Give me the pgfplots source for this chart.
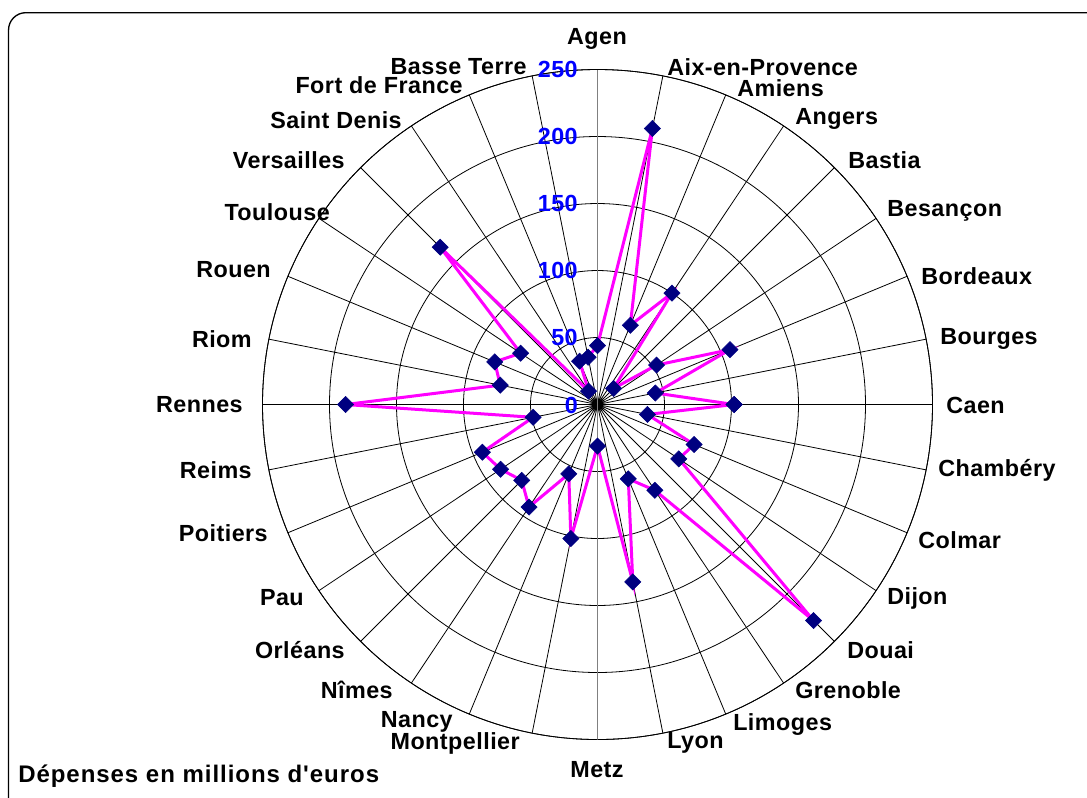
\documentclass[border=0pt]{standalone}
\usepackage{pgfplots}
\pgfplotsset{compat=1.18}
\usepgfplotslibrary{polar}
\usepackage{fontspec}
\setmainfont{Liberation Sans}
\newfontfamily\labfont{Liberation Sans}[LetterSpace=2]
\newfontfamily\titfont{Liberation Sans}[LetterSpace=4]
\definecolor{navymark}{HTML}{000080}
\definecolor{linemag}{HTML}{FF00FF}
\definecolor{tickblue}{HTML}{0000FF}
\definecolor{axgray}{HTML}{808080}
\pgfplotstableread{
angle value
0 102
11.25 44
22.5 107
33.75 53
45 17
56.25 100
67.5 64
78.75 210
90 44
101.25 36
112.5 35
123.75 12
135 166
146.25 69
157.5 83
168.75 74
180 188
191.25 49
202.5 93
213.75 87
225 80
236.25 92
247.5 56
258.75 102
270 31
281.25 135
292.5 60
303.75 77
315 228
326.25 73
337.5 78
348.75 38
360 102
}\spending
\begin{document}
\begin{tikzpicture}
\useasboundingbox (0pt,0pt) rectangle (815.25pt,-597.75pt);
\begin{scope}
\clip (0pt,0pt) rectangle (815.25pt,-597.75pt);
\draw[line width=1pt, rounded corners=13pt] (6.4pt,-9.5pt) rectangle (840pt,-620pt);
\end{scope}
\begin{polaraxis}[
  at={(448.125pt,-303.375pt)}, anchor=center,
  width=502.5pt, height=502.5pt, scale only axis,
  ymin=0, ymax=250,
  xtick={0,11.25,22.5,33.75,45,56.25,67.5,78.75,90,101.25,112.5,123.75,135,146.25,157.5,168.75,180,191.25,202.5,213.75,225,236.25,247.5,258.75,270,281.25,292.5,303.75,315,326.25,337.5,348.75},
  xticklabels={},
  ytick={0,50,100,150,200,250},
  yticklabels={},
  xmajorgrids, ymajorgrids,
  major grid style={black, line width=0.6pt},
  axis line style={black, line width=0.6pt},
  major tick style={draw=none},
]
\draw[axgray, line width=1.3pt] (axis cs:90,0) -- (axis cs:90,250);
\draw[axgray, line width=1.3pt] (axis cs:270,0) -- (axis cs:270,250);
\addplot[linemag, line width=2.25pt, mark=square*, mark size=4.3pt,
  mark options={rotate=45, fill=navymark, draw=navymark, line width=0.4pt}]
  table[x=angle, y=value] {\spending};
\end{polaraxis}
\begin{scope}[x=0.75pt, y=-0.75pt, every node/.style={inner sep=0pt, font=\labfont\bfseries\fontsize{17.5}{20}\selectfont}]
% value labels
\begin{scope}[every node/.append style={text=tickblue, anchor=east}]
\node at (578,405) {0};
\node at (578,337.5) {50};
\node at (578,270.5) {100};
\node at (578,203.5) {150};
\node at (578,136.5) {200};
\node at (578,69.5) {250};
\end{scope}
% category labels
\node[anchor=center] at (597,38.5) {Agen};
\node[anchor=center] at (597,770) {Metz};
\begin{scope}[every node/.append style={anchor=west}]
\node at (667,67) {Aix-en-Provence};
\node at (737,88) {Amiens};
\node at (795,119) {Angers};
\node at (848,160) {Bastia};
\node at (887,211) {Besançon};
\node at (921,276) {Bordeaux};
\node at (940,339) {Bourges};
\node at (946,405) {Caen};
\node at (938,470) {Chambéry};
\node at (918,540) {Colmar};
\node at (887,598) {Dijon};
\node at (847,650) {Douai};
\node at (795,690) {Grenoble};
\node at (733,725) {Limoges};
\node at (667,743) {Lyon};
\end{scope}
\begin{scope}[every node/.append style={anchor=east}]
\node at (527,67) {Basse Terre};
\node at (463,85) {Fort de France};
\node at (402,120) {Saint Denis};
\node at (345,160) {Versailles};
\node at (330,212) {Toulouse};
\node at (271,270) {Rouen};
\node at (252,339) {Riom};
\node at (243,405) {Rennes};
\node at (252,470) {Reims};
\node at (268,533) {Poitiers};
\node at (304,598) {Pau};
\node at (345,650) {Orléans};
\node at (393,690) {Nîmes};
\node at (453,722) {Nancy};
\node at (520,743) {Montpellier};
\end{scope}
\node[anchor=base west, font=\titfont\bfseries\fontsize{18}{21}\selectfont] at (18,782) {Dépenses en millions d'euros};
\end{scope}
\end{tikzpicture}
\end{document}
